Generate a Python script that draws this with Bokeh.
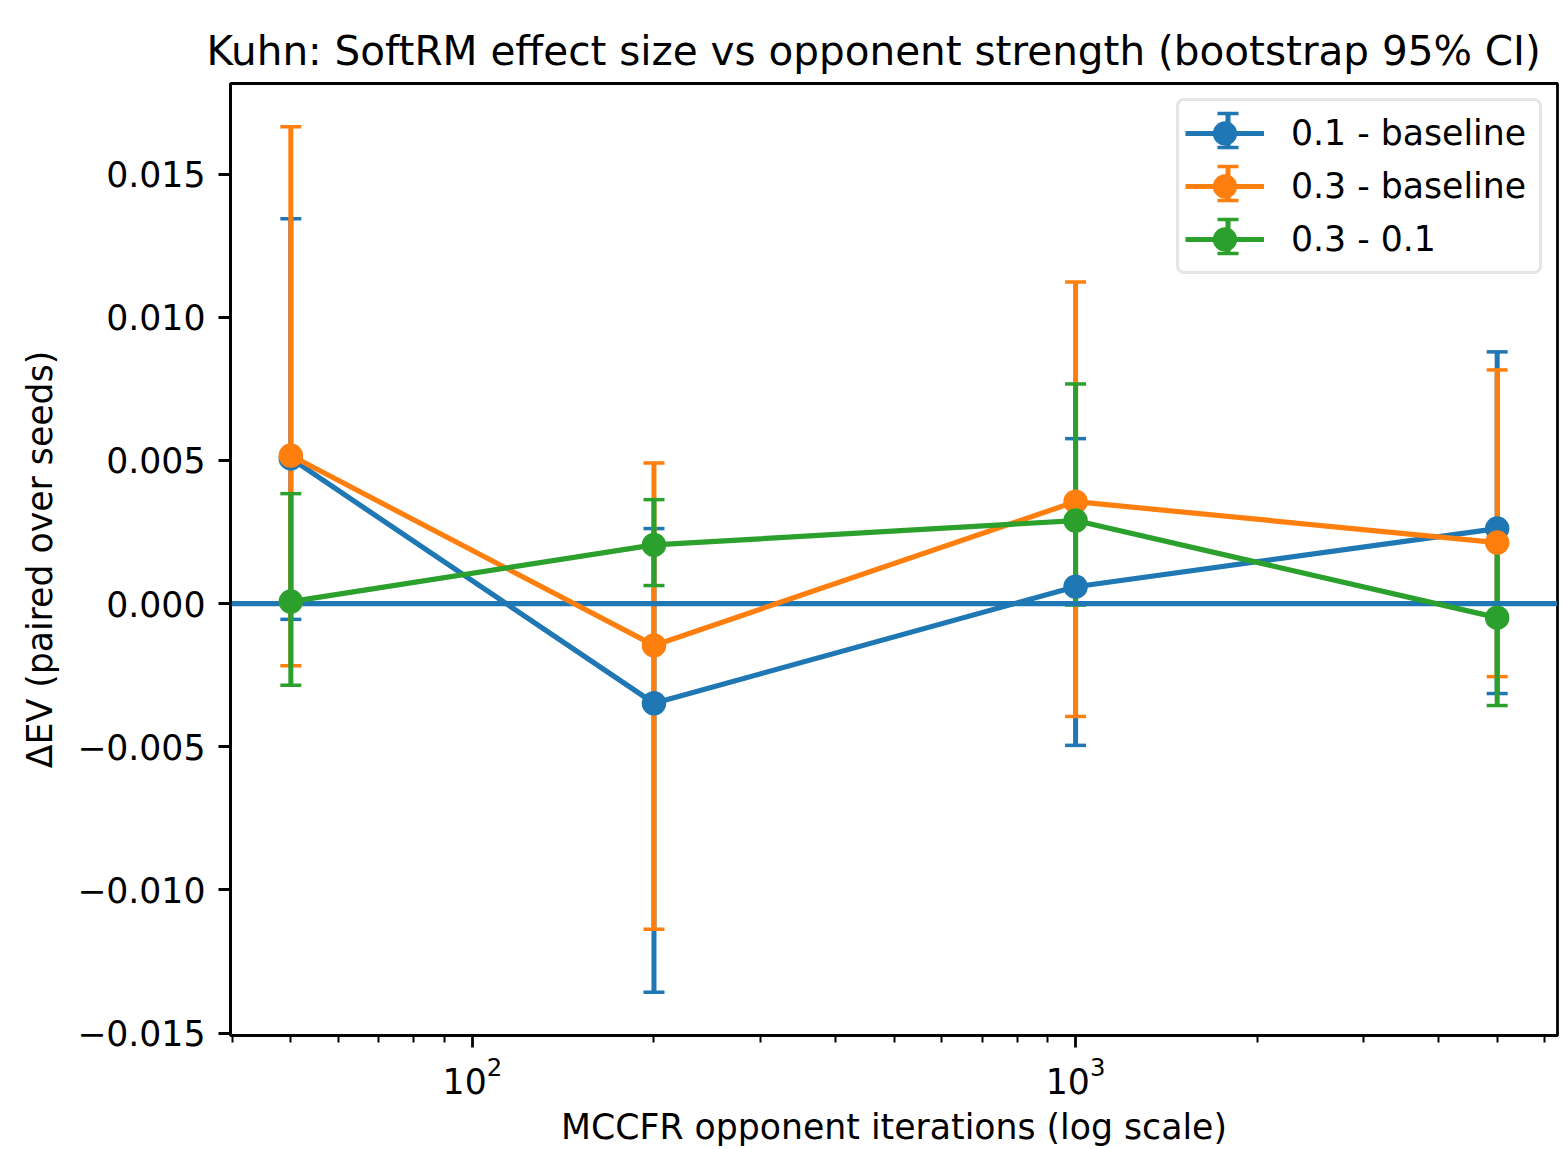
import math
from bokeh.plotting import figure
from bokeh.models import (ColumnDataSource, Whisker, TeeHead, Span, Legend, LegendItem,
                          Arrow, FixedTicker, CustomJSTickFormatter, Range1d)
from bokeh.embed import file_html
from bokeh.resources import INLINE

TITLE = "Kuhn: SoftRM effect size vs opponent strength (bootstrap 95% CI)"
X_LABEL = "MCCFR opponent iterations (log scale)"
Y_LABEL = "ΔEV (paired over seeds)"

iterations = [50, 200, 1000, 5000]

series_names = ["0.1 - baseline", "0.3 - baseline", "0.3 - 0.1"]
colors = ["#1f77b4", "#ff7f0e", "#2ca02c"]

d01_mean = [0.00507, -0.00348, 0.00059, 0.00262]
d01_lo = [-0.00055, -0.01357, -0.00495, -0.00314]
d01_hi = [0.01344, 0.00262, 0.00576, 0.00879]

d03_mean = [0.00517, -0.00146, 0.00356, 0.00213]
d03_lo = [-0.00217, -0.01137, -0.00394, -0.00255]
d03_hi = [0.01665, 0.00491, 0.01123, 0.00816]

d0301_mean = [0.00007, 0.00205, 0.00290, -0.00049]
d0301_lo = [-0.00285, 0.00063, -0.00005, -0.00356]
d0301_hi = [0.00384, 0.00363, 0.00767, 0.00209]

y_ticks = [-0.015, -0.010, -0.005, 0.0, 0.005, 0.010, 0.015]
x_major_ticks = [100, 1000]

FONT = "DejaVu Sans"
TICK_FS = "34.7px"
TITLE_FS = "40.5px"

# matplotlib-like 5% auto margins
lx = [math.log10(v) for v in iterations]
xspan = max(lx) - min(lx)
x_range = Range1d(10 ** (min(lx) - 0.05 * xspan), 10 ** (max(lx) + 0.05 * xspan))
all_lo = min(d01_lo + d03_lo + d0301_lo)
all_hi = max(d01_hi + d03_hi + d0301_hi)
yspan = all_hi - all_lo
y_range = Range1d(all_lo - 0.05 * yspan, all_hi + 0.05 * yspan)

W, H = 1564, 1149
B_LEFT, B_RIGHT, B_TOP, B_BOTTOM = 230, 7, 83, 114
frame_w = W - B_LEFT - B_RIGHT
frame_h = H - B_TOP - B_BOTTOM

p = figure(width=W, height=H, x_axis_type="log", x_range=x_range, y_range=y_range,
           output_backend="svg", toolbar_location=None,
           min_border_left=B_LEFT, min_border_right=B_RIGHT,
           min_border_top=B_TOP, min_border_bottom=B_BOTTOM)

p.background_fill_color = "white"
p.border_fill_color = "white"
p.outline_line_color = "black"
p.outline_line_width = 2.8
p.xgrid.visible = False
p.ygrid.visible = False

p.title.text = TITLE
p.title.align = "left"
p.title.offset = -24
p.title.text_font = FONT
p.title.text_font_size = TITLE_FS
p.title.text_font_style = "normal"
p.title.text_color = "black"
p.title.standoff = 18

minor = [m * 10 ** k for k in range(1, 4) for m in range(2, 10)]
p.xaxis.ticker = FixedTicker(ticks=x_major_ticks, minor_ticks=minor)
p.yaxis.ticker = FixedTicker(ticks=y_ticks)
p.yaxis.formatter = CustomJSTickFormatter(code="return tick.toFixed(3).replace('-', '\u2212')")

for ax in (p.xaxis[0], p.yaxis[0]):
    ax.axis_line_color = "black"
    ax.axis_line_width = 2.8
    ax.major_tick_line_color = "black"
    ax.major_tick_line_width = 2.8
    ax.major_tick_out = 12
    ax.major_tick_in = 0
    ax.minor_tick_line_color = "black"
    ax.minor_tick_line_width = 2.0
    ax.minor_tick_out = 7
    ax.minor_tick_in = 0
    ax.major_label_text_font = FONT
    ax.major_label_text_font_size = TICK_FS
    ax.major_label_text_color = "black"
    ax.axis_label_text_font = FONT
    ax.axis_label_text_font_size = TICK_FS
    ax.axis_label_text_font_style = "normal"
    ax.axis_label_text_color = "black"
p.yaxis.major_label_standoff = 13
p.xaxis.major_label_standoff = 8
p.xaxis.axis_label = X_LABEL
p.xaxis.axis_label_standoff = 10
p.yaxis.axis_label = Y_LABEL
p.yaxis.axis_label_standoff = 14

series = [
    (d01_mean, d01_lo, d01_hi),
    (d03_mean, d03_lo, d03_hi),
    (d0301_mean, d0301_lo, d0301_hi),
]

CAP = 21
EW = 5
CAP_W = 3.5
LW = 5.2
MS = 21
MEW = 3.5

sources = []
for (mean, lo, hi), c in zip(series, colors):
    src = ColumnDataSource(dict(x=iterations, y=mean, lo=lo, hi=hi))
    sources.append(src)
    w = Whisker(base="x", lower="lo", upper="hi", source=src, level="underlay",
                line_color=c, line_width=EW,
                upper_head=TeeHead(size=CAP, line_color=c, line_width=CAP_W),
                lower_head=TeeHead(size=CAP, line_color=c, line_width=CAP_W))
    p.add_layout(w)

p.add_layout(Span(location=0, dimension="width", line_color=colors[0], line_width=LW,
                  level="underlay"))

items = []
for src, c, name in zip(sources, colors, series_names):
    lr = p.line("x", "y", source=src, line_color=c, line_width=LW)
    sr = p.scatter("x", "y", source=src, size=MS, fill_color=c, line_color=c, line_width=MEW)
    items.append(LegendItem(label=name, renderers=[lr, sr]))

LEG_MARGIN = 15
LEG_PAD = 6
GLYPH_W = 79
GLYPH_H = 52
LEG_SPACING = 1
LABEL_STANDOFF = 27
LABEL_W = 242

leg_kw = dict(items=items, location="top_right", margin=LEG_MARGIN, padding=LEG_PAD,
              spacing=LEG_SPACING, glyph_width=GLYPH_W, glyph_height=GLYPH_H,
              label_standoff=LABEL_STANDOFF, label_width=LABEL_W,
              label_text_font=FONT, label_text_font_size=TICK_FS,
              label_text_baseline="middle", label_text_color="black",
              border_line_color="#cccccc", border_line_width=3,
              background_fill_color="white", background_fill_alpha=0.0)
if "border_radius" in Legend.properties():
    leg_kw["border_radius"] = 8
legend = Legend(**leg_kw)
p.add_layout(legend)

# vertical error-bar mark inside each legend handle (frame-relative screen units)
leg_width = 2 * LEG_PAD + GLYPH_W + LABEL_STANDOFF + LABEL_W
handle_x = frame_w - LEG_MARGIN - leg_width + LEG_PAD + GLYPH_W / 2
for i, c in enumerate(colors):
    cy = frame_h - LEG_MARGIN - LEG_PAD - i * (GLYPH_H + LEG_SPACING) - GLYPH_H / 2
    p.add_layout(Arrow(x_start=handle_x, y_start=cy - 17, x_end=handle_x, y_end=cy + 17,
                       start_units="screen", end_units="screen", level="overlay",
                       line_color=c, line_width=EW,
                       start=TeeHead(size=CAP, line_color=c, line_width=CAP_W),
                       end=TeeHead(size=CAP, line_color=c, line_width=CAP_W)))

open("out.html", "w").write(file_html(p, INLINE))
